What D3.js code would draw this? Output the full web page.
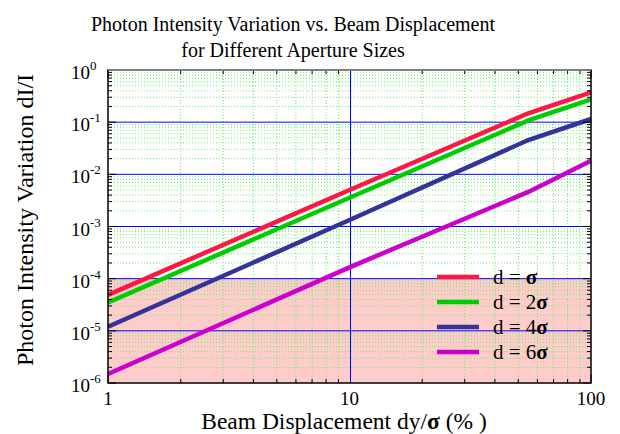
<!DOCTYPE html>
<html>
<head>
<meta charset="utf-8">
<script src="https://cdn.jsdelivr.net/npm/d3@7"></script>
<style>
  body { margin: 0; background: #fff; }
  svg { display: block; font-family: "Liberation Serif", "DejaVu Serif", serif; }
</style>
</head>
<body>
<svg id="chart" width="620" height="434"></svg>
<script>
// beam displacement dy/sigma (%) where the curves were read
var displacement = [1, 10, 55, 100];

// dI/I for each aperture size
var sigma1 = [4.9e-5, 5.0e-3, 0.148, 0.374];
var sigma2 = [3.5e-5, 3.56e-3, 0.108, 0.274];
var sigma4 = [1.2e-5, 1.33e-3, 0.0455, 0.115];
var sigma6 = [1.49e-6, 1.65e-4, 4.6e-3, 0.0183];

var seriesNames = ['', '2', '4', '6'];
var seriesColors = ['#ff1744', '#00cc00', '#333399', '#cc00cc'];
var yTickExp = [0, -1, -2, -3, -4, -5, -6];
var xTickLabels = ['1', '10', '100'];

var svg = d3.select('#chart');
// note: "top" is taken by window.top, so plot edges get their own names
var pLeft = 108, pRight = 591, pTop = 70, pBottom = 383;

var x = d3.scaleLog().domain([1, 100]).range([pLeft, pRight]);
var y = d3.scaleLog().domain([1e-6, 1]).range([pBottom, pTop]);

// pink band under 1e-4
svg.append('rect')
  .attr('x', x(1))
  .attr('y', y(1e-4))
  .attr('width', x(100) - x(1))
  .attr('height', y(1e-6) - y(1e-4))
  .attr('fill', '#ffcccc');

// minor grid (green dots)
var xMinor = [], yMinor = [];
[1, 10].forEach(function(d) {
  for (var k = 2; k < 10; k++) xMinor.push(d * k);
});
for (var e = -6; e < 0; e++) {
  for (var k = 2; k < 10; k++) yMinor.push(k * Math.pow(10, e));
}

var grid = svg.append('g');
grid.selectAll('.xminor')
  .data(xMinor)
  .enter().append('line')
  .attr('x1', function(d) { return x(d); })
  .attr('x2', function(d) { return x(d); })
  .attr('y1', pTop).attr('y2', pBottom)
  .attr('stroke', '#66ee66')
  .attr('stroke-dasharray', '1,2');
grid.selectAll('.yminor')
  .data(yMinor)
  .enter().append('line')
  .attr('y1', function(d) { return y(d); })
  .attr('y2', function(d) { return y(d); })
  .attr('x1', pLeft).attr('x2', pRight)
  .attr('stroke', '#66ee66')
  .attr('stroke-dasharray', '1,2');

// major grid (blue)
grid.selectAll('.ymajor')
  .data(yTickExp.slice(1, 6))
  .enter().append('line')
  .attr('y1', function(d) { return y(Math.pow(10, d)); })
  .attr('y2', function(d) { return y(Math.pow(10, d)); })
  .attr('x1', pLeft).attr('x2', pRight)
  .attr('stroke', '#0000ff');
var x10 = Math.round(x(10)) + 0.5;
grid.append('line')
  .attr('x1', x10).attr('x2', x10)
  .attr('y1', pTop).attr('y2', pBottom)
  .attr('stroke', '#0000ff');

// the curves
var allSeries = [sigma1, sigma2, sigma4, sigma6];
var line = d3.line()
  .x(function(d, i) { return x(displacement[i]); })
  .y(function(d) { return y(d); });

svg.selectAll('.curve')
  .data(allSeries)
  .enter().append('path')
  .attr('d', line)
  .attr('fill', 'none')
  .attr('stroke', function(d, i) { return seriesColors[i]; })
  .attr('stroke-width', 4.5);

// ticks on all four sides, pointing in
var ticks = svg.append('g').attr('stroke', '#000');
xMinor.forEach(function(d) {
  ticks.append('line').attr('x1', x(d)).attr('x2', x(d)).attr('y1', pBottom).attr('y2', pBottom - 4);
  ticks.append('line').attr('x1', x(d)).attr('x2', x(d)).attr('y1', pTop).attr('y2', pTop + 4);
});
[1, 100].forEach(function(d) {
  ticks.append('line').attr('x1', x(d)).attr('x2', x(d)).attr('y1', pBottom).attr('y2', pBottom - 8);
  ticks.append('line').attr('x1', x(d)).attr('x2', x(d)).attr('y1', pTop).attr('y2', pTop + 8);
});
yMinor.forEach(function(d) {
  ticks.append('line').attr('y1', y(d)).attr('y2', y(d)).attr('x1', pLeft).attr('x2', pLeft + 4);
  ticks.append('line').attr('y1', y(d)).attr('y2', y(d)).attr('x1', pRight).attr('x2', pRight - 4);
});
yTickExp.forEach(function(d) {
  var v = Math.pow(10, d);
  ticks.append('line').attr('y1', y(v)).attr('y2', y(v)).attr('x1', pLeft).attr('x2', pLeft + 8);
  ticks.append('line').attr('y1', y(v)).attr('y2', y(v)).attr('x1', pRight).attr('x2', pRight - 8);
});

// frame
svg.append('rect')
  .attr('x', pLeft).attr('y', pTop)
  .attr('width', pRight - pLeft).attr('height', pBottom - pTop)
  .attr('fill', 'none')
  .attr('stroke', '#000')
  .attr('stroke-width', 1.5);
svg.append('line')
  .attr('x1', pLeft).attr('x2', pRight).attr('y1', pTop).attr('y2', pTop)
  .attr('stroke', '#999').attr('stroke-width', 1.5);

// tick labels
svg.selectAll('.xlab')
  .data(xTickLabels)
  .enter().append('text')
  .attr('x', function(d) { return x(+d); })
  .attr('y', 405)
  .attr('text-anchor', 'middle')
  .attr('font-size', 19)
  .text(function(d) { return d; });

var ylab = svg.selectAll('.ylab')
  .data(yTickExp)
  .enter().append('text')
  .attr('x', 71)
  .attr('y', function(d) { return y(Math.pow(10, d)) + 9; })
  .attr('font-size', 19);
ylab.append('tspan').text('10');
ylab.append('tspan')
  .attr('dy', -9)
  .attr('font-size', 13)
  .text(function(d) { return d; });

// legend
var legend = svg.append('g');
seriesNames.forEach(function(n, i) {
  var ly = 277 + i * 25;
  legend.append('line')
    .attr('x1', 437).attr('x2', 479)
    .attr('y1', ly).attr('y2', ly)
    .attr('stroke', seriesColors[i])
    .attr('stroke-width', 4.5);
  var t = legend.append('text')
    .attr('x', 493).attr('y', ly + 7)
    .attr('font-size', 21);
  t.append('tspan').text('d = ' + n);
  t.append('tspan').attr('font-weight', 'bold').text('σ');
});

// titles
var title = svg.append('text')
  .attr('text-anchor', 'middle')
  .attr('font-size', 20);
title.append('tspan').attr('x', 293).attr('y', 31).text('Photon Intensity Variation vs. Beam Displacement');
title.append('tspan').attr('x', 293).attr('y', 57).text('for Different Aperture Sizes');

var xt = svg.append('text')
  .attr('x', 344).attr('y', 429)
  .attr('text-anchor', 'middle')
  .attr('font-size', 23.5);
xt.append('tspan').text('Beam Displacement dy/');
xt.append('tspan').attr('font-weight', 'bold').text('σ');
xt.append('tspan').text(' (% )');

svg.append('text')
  .attr('transform', 'translate(33,220) rotate(-90)')
  .attr('text-anchor', 'middle')
  .attr('font-size', 24)
  .text('Photon Intensity Variation dI/I');
</script>
</body>
</html>
